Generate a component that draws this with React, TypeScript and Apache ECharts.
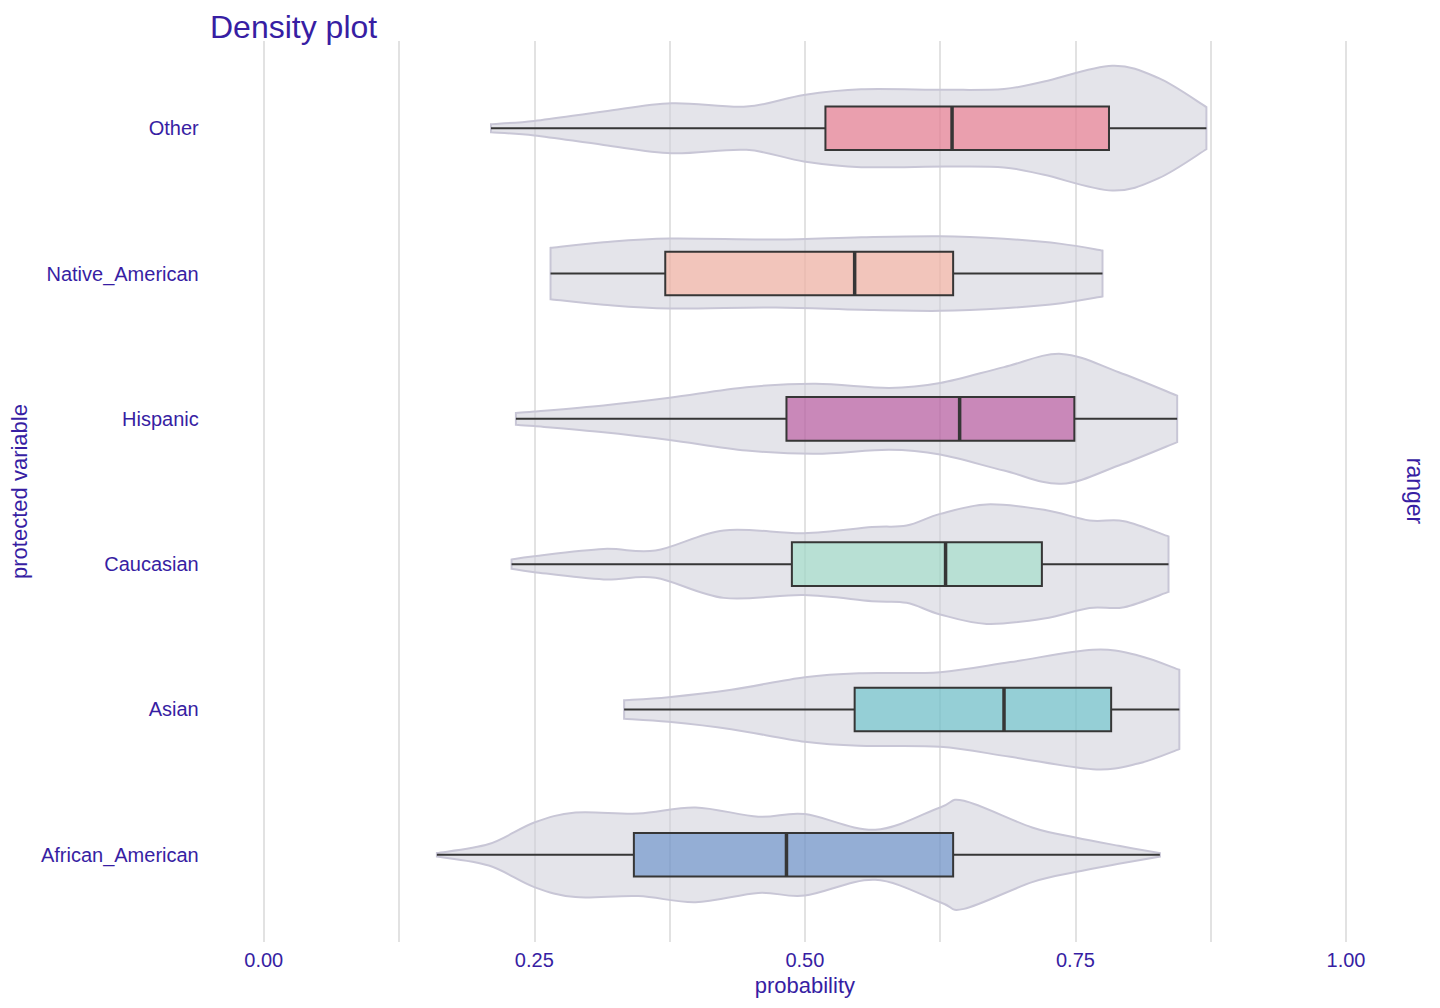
import React, { useEffect, useRef } from "react";
import * as echarts from "echarts";

// ---------- data ----------
const categories = ["African_American", "Asian", "Caucasian", "Hispanic", "Native_American", "Other"];
const categoryPositions = [1, 2, 3, 4, 5, 6];

const whiskerLow = [0.160, 0.333, 0.229, 0.233, 0.265, 0.210];
const q1 = [0.342, 0.546, 0.488, 0.483, 0.371, 0.519];
const medians = [0.483, 0.684, 0.630, 0.643, 0.546, 0.636];
const q3 = [0.637, 0.783, 0.719, 0.749, 0.637, 0.781];
const whiskerHigh = [0.828, 0.846, 0.836, 0.844, 0.775, 0.871];

// violin half-widths (scaled density, in category units) at probability values
const violinAfricanAmerican = [
  [0.160, 0.012], [0.208, 0.074], [0.25, 0.222], [0.288, 0.291], [0.346, 0.284],
  [0.399, 0.326], [0.457, 0.262], [0.5, 0.280], [0.565, 0.172], [0.625, 0.326],
  [0.647, 0.372], [0.710, 0.188], [0.75, 0.119], [0.790, 0.062], [0.828, 0.012],
];
const violinAsian = [
  [0.333, 0.064], [0.374, 0.085], [0.432, 0.136], [0.500, 0.222], [0.550, 0.250],
  [0.625, 0.257], [0.690, 0.326], [0.766, 0.411], [0.808, 0.372], [0.846, 0.273],
];
const violinCaucasian = [
  [0.229, 0.032], [0.25, 0.055], [0.314, 0.105], [0.362, 0.094], [0.425, 0.232],
  [0.499, 0.213], [0.562, 0.255], [0.594, 0.266], [0.625, 0.346], [0.668, 0.411],
  [0.721, 0.374], [0.763, 0.301], [0.795, 0.296], [0.836, 0.191],
];
const violinHispanic = [
  [0.233, 0.041], [0.25, 0.050], [0.314, 0.092], [0.375, 0.145], [0.446, 0.218],
  [0.510, 0.241], [0.578, 0.213], [0.625, 0.246], [0.684, 0.356], [0.737, 0.447],
  [0.790, 0.321], [0.844, 0.160],
];
const violinNativeAmerican = [
  [0.265, 0.177], [0.314, 0.215], [0.375, 0.241], [0.473, 0.234], [0.552, 0.250],
  [0.625, 0.257], [0.684, 0.239], [0.737, 0.204], [0.775, 0.158],
];
const violinOther = [
  [0.210, 0.028], [0.25, 0.050], [0.314, 0.115], [0.377, 0.172], [0.446, 0.149],
  [0.499, 0.229], [0.552, 0.268], [0.631, 0.264], [0.684, 0.270], [0.721, 0.321],
  [0.784, 0.429], [0.827, 0.344], [0.871, 0.145],
];
const violins = [
  violinAfricanAmerican, violinAsian, violinCaucasian,
  violinHispanic, violinNativeAmerican, violinOther,
];

const xTickValues = [0, 0.25, 0.5, 0.75, 1];

// ---------- styles ----------
const PURPLE = "#371ea3";
const FONT = "Liberation Sans, Arial, Helvetica, sans-serif";
const boxColors = ["#4378bf", "#46bac2", "#8bdcbe", "#ae2c87", "#ffa58c", "#f05a71"];
const BOX_HALF = 0.15;

function smoothSegments(pts: number[][]): string {
  let d = "";
  for (let i = 0; i < pts.length - 1; i++) {
    const p0 = pts[i - 1] || pts[i];
    const p1 = pts[i];
    const p2 = pts[i + 1];
    const p3 = pts[i + 2] || pts[i + 1];
    const c1x = p1[0] + (p2[0] - p0[0]) / 6;
    const c1y = p1[1] + (p2[1] - p0[1]) / 6;
    const c2x = p2[0] - (p3[0] - p1[0]) / 6;
    const c2y = p2[1] - (p3[1] - p1[1]) / 6;
    d += ` C${c1x},${c1y} ${c2x},${c2y} ${p2[0]},${p2[1]}`;
  }
  return d;
}

export default function App() {
  const ref = useRef<HTMLDivElement>(null);

  useEffect(() => {
    if (!ref.current) return;
    const chart = echarts.init(ref.current, null, { renderer: "svg" });

    const violinSeries = {
      type: "custom",
      name: "violin",
      encode: { x: 0, y: 1 },
      data: categoryPositions.map((p, i) => [whiskerLow[i], p]),
      renderItem: (params: any, api: any) => {
        const i = params.dataIndex;
        const yc = api.value(1);
        const pts = violins[i];
        const top = pts.map((p) => api.coord([p[0], yc + p[1]]));
        const bottom = pts.map((p) => api.coord([p[0], yc - p[1]])).reverse();
        const d =
          `M${top[0][0]},${top[0][1]}` +
          smoothSegments(top) +
          ` L${bottom[0][0]},${bottom[0][1]}` +
          smoothSegments(bottom) +
          " Z";
        return {
          type: "path",
          shape: { pathData: d },
          style: { fill: "rgba(206,206,217,0.55)", stroke: "#c8c6d6", lineWidth: 2 },
        };
      },
      z: 2,
    };

    const boxSeries = {
      type: "custom",
      name: "box",
      encode: { x: [0, 4], y: 5 },
      data: categoryPositions.map((p, i) => [
        whiskerLow[i], q1[i], medians[i], q3[i], whiskerHigh[i], p,
      ]),
      renderItem: (params: any, api: any) => {
        const i = params.dataIndex;
        const yc = api.value(5);
        const lo = api.coord([api.value(0), yc]);
        const a = api.coord([api.value(1), yc + BOX_HALF]);
        const m = api.coord([api.value(2), yc]);
        const b = api.coord([api.value(3), yc - BOX_HALF]);
        const hi = api.coord([api.value(4), yc]);
        const stroke = "#363636";
        return {
          type: "group",
          children: [
            { type: "line", shape: { x1: lo[0], y1: lo[1], x2: a[0], y2: lo[1] }, style: { stroke, lineWidth: 2 } },
            { type: "line", shape: { x1: b[0], y1: hi[1], x2: hi[0], y2: hi[1] }, style: { stroke, lineWidth: 2 } },
            {
              type: "rect",
              shape: { x: a[0], y: a[1], width: b[0] - a[0], height: b[1] - a[1] },
              style: { fill: boxColors[i], opacity: 1, fillOpacity: 0.5, stroke, lineWidth: 2 },
            },
            { type: "line", shape: { x1: m[0], y1: a[1], x2: m[0], y2: b[1] }, style: { stroke, lineWidth: 3.5 } },
          ],
        };
      },
      z: 3,
    };

    const option: any = {
      animation: false,
      backgroundColor: "#ffffff",
      textStyle: { fontFamily: FONT },
      title: {
        text: "Density plot",
        left: 205,
        top: 6,
        textStyle: { color: PURPLE, fontSize: 32, fontWeight: "normal", fontFamily: FONT },
      },
      grid: { left: 260, right: 94, top: 41, bottom: 66, containLabel: false },
      xAxis: {
        type: "value",
        min: 0,
        max: 1,
        interval: 0.25,
        name: "probability",
        nameLocation: "middle",
        nameGap: 31,
        nameTextStyle: { color: PURPLE, fontSize: 22, fontFamily: FONT },
        axisLine: { show: false },
        axisTick: { show: false },
        axisLabel: {
          color: PURPLE,
          fontSize: 20,
          margin: 8,
          fontFamily: FONT,
          customValues: xTickValues,
          formatter: (v: number) => v.toFixed(2),
        },
        splitLine: { show: true, lineStyle: { color: "#e2e2e2", width: 2 } },
        minorTick: { show: false, splitNumber: 2 },
        minorSplitLine: { show: true, lineStyle: { color: "#e2e2e2", width: 2 } },
      },
      yAxis: {
        type: "value",
        min: 0.4,
        max: 6.6,
        name: "protected variable",
        nameLocation: "middle",
        nameGap: 224,
        nameTextStyle: { color: PURPLE, fontSize: 22, fontFamily: FONT },
        axisLine: { show: false },
        axisTick: { show: false },
        splitLine: { show: false },
        axisLabel: {
          color: PURPLE,
          fontSize: 20,
          margin: 65,
          fontFamily: FONT,
          customValues: categoryPositions,
          formatter: (v: number) => categories[Math.round(v) - 1] ?? "",
        },
      },
      graphic: [
        {
          type: "text",
          x: 1415,
          y: 491,
          rotation: -Math.PI / 2,
          style: {
            text: "ranger",
            fill: PURPLE,
            fontSize: 23,
            fontFamily: FONT,
            align: "center",
            verticalAlign: "middle",
          },
        },
      ],
      series: [violinSeries, boxSeries],
    };

    chart.setOption(option);
    return () => chart.dispose();
  }, []);

  return (
    <div
      ref={ref}
      style={{ position: "absolute", left: 0, top: 0, width: 1440, height: 1008 }}
    />
  );
}
